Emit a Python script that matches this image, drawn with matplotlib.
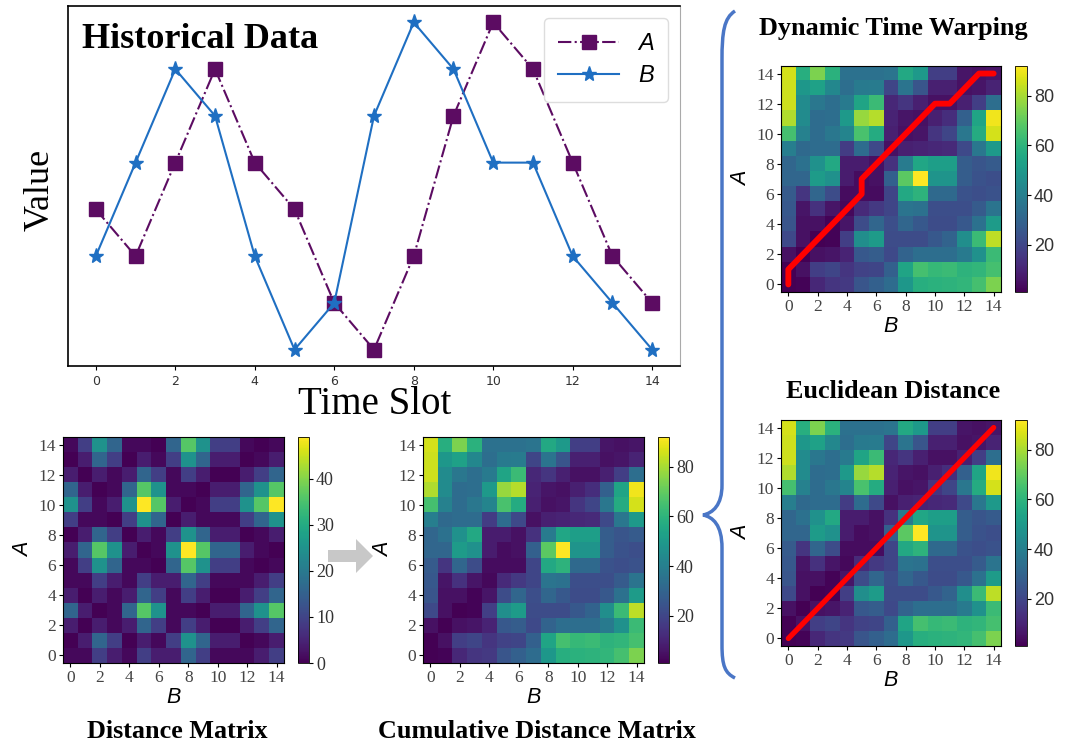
import numpy as np
import matplotlib.pyplot as plt
from matplotlib.patches import FancyArrow, PathPatch
from matplotlib.path import Path

# 两条时间序列 (读图得到的离散取值)
time_slots = [0, 1, 2, 3, 4, 5, 6, 7, 8, 9, 10, 11, 12, 13, 14]
series_a = [3, 2, 4, 6, 4, 3, 1, 0, 2, 5, 7, 6, 4, 2, 1]
series_b = [2, 4, 6, 5, 2, 0, 1, 5, 7, 6, 4, 4, 2, 1, 0]
line_ticks = [0, 2, 4, 6, 8, 10, 12, 14]
heat_ticks = [0, 2, 4, 6, 8, 10, 12, 14]
dist_cbar_ticks = [0, 10, 20, 30, 40]
cum_cbar_ticks = [20, 40, 60, 80]

SERIF = 'Liberation Serif'
SANS = 'Liberation Sans'

# 距离矩阵: 行为A, 列为B
a = np.array(series_a)
b = np.array(series_b)
dist = (a[:, None] - b[None, :]) ** 2
n, m = dist.shape
# 累积距离矩阵 (DTW)
cum = np.zeros((n, m))
for i in range(n):
    for j in range(m):
        if i == 0 and j == 0:
            cum[i, j] = dist[i, j]
        elif i == 0:
            cum[i, j] = dist[i, j] + cum[i, j - 1]
        elif j == 0:
            cum[i, j] = dist[i, j] + cum[i - 1, j]
        else:
            cum[i, j] = dist[i, j] + min(cum[i - 1, j - 1], cum[i - 1, j], cum[i, j - 1])
# 回溯最优路径 (平局时先向上)
i, j = n - 1, m - 1
path = [(i, j)]
while i > 0 or j > 0:
    if i == 0:
        j -= 1
    elif j == 0:
        i -= 1
    else:
        k = np.argmin([cum[i - 1, j], cum[i - 1, j - 1], cum[i, j - 1]])
        if k == 0:
            i -= 1
        elif k == 1:
            i, j = i - 1, j - 1
        else:
            j -= 1
    path.append((i, j))
path.reverse()
path_a = [p[0] for p in path]
path_b = [p[1] for p in path]

W, H = 1066, 745
fig = plt.figure(figsize=(W / 100, H / 100), dpi=100)


def px_rect(left, top, right, bottom):
    return [left / W, 1 - bottom / H, (right - left) / W, (bottom - top) / H]


# ---- 历史数据折线图 ----
ax = fig.add_axes(px_rect(68, 6, 680, 366))
ax.plot(time_slots, series_a, color='#5c0c62', ls='-.', lw=1.5, marker='s', ms=10, label='A')
ax.plot(time_slots, series_b, color='#1f6fc2', ls='-', lw=1.5, marker='*', ms=11, label='B')
ax.set_xticks(line_ticks)
ax.tick_params(axis='x', labelsize=9, labelcolor='#333333', length=3)
ax.set_yticks([])
ax.spines['right'].set_color('#aaaaaa')
for s in ['left', 'bottom', 'top']:
    ax.spines[s].set_linewidth(1.2)
ax.legend(loc='upper right', prop={'family': SANS, 'style': 'italic', 'size': 17},
          handlelength=2.6, labelspacing=0.4, borderpad=0.6, framealpha=1, edgecolor='#dddddd')
ax.text(0.023, 0.884, 'Historical Data', transform=ax.transAxes, family=SERIF,
        fontweight='bold', fontsize=26, va='baseline')
fig.text(40 / W, 1 - 190 / H, 'Value', family=SERIF, fontsize=26, rotation=90,
         ha='center', va='center')
fig.text(375 / W, 1 - 405 / H, 'Time Slot', family=SERIF, fontsize=28,
         ha='center', va='center')


def heatmap(rect, cbar_rect, data, cbar_ticks, cbar_family, cbar_size):
    hx = fig.add_axes(px_rect(*rect))
    im = hx.imshow(data, origin='lower', cmap='viridis', aspect='auto')
    hx.set_xticks(heat_ticks)
    hx.set_xticklabels(heat_ticks, family=SERIF, fontsize=12.5, color='#444444')
    hx.set_yticks(heat_ticks)
    hx.set_yticklabels(heat_ticks, family=SERIF, fontsize=12.5, color='#444444')
    hx.tick_params(length=3, pad=2)
    hx.set_xlabel('B', family=SANS, style='italic', fontsize=15.5, labelpad=1)
    hx.set_ylabel('A', family=SANS, style='italic', fontsize=15.5, labelpad=3)
    cx = fig.add_axes(px_rect(*cbar_rect))
    cb = fig.colorbar(im, cax=cx, ticks=cbar_ticks)
    cb.ax.set_yticklabels(cbar_ticks, family=cbar_family, fontsize=cbar_size, color='#333333')
    cb.ax.tick_params(length=3, pad=2)
    cb.outline.set_linewidth(0.6)
    return hx


heatmap((63, 437, 284, 663), (298, 437, 309, 663), dist, dist_cbar_ticks, SERIF, 13)
heatmap((423, 437, 644, 663), (658, 437, 669, 663), cum, cum_cbar_ticks, SERIF, 13)
dtw_ax = heatmap((781, 66, 1001, 292), (1015, 66, 1027, 292), cum, cum_cbar_ticks, SANS, 13)
dtw_ax.plot(path_b, path_a, color='red', lw=4.2, solid_joinstyle='round', solid_capstyle='round')
euc_ax = heatmap((781, 420, 1001, 646), (1015, 420, 1027, 646), cum, cum_cbar_ticks, SANS, 13)
euc_ax.plot(time_slots, time_slots, color='red', lw=3.8, solid_capstyle='round')

for label, x, y in [('Distance Matrix', 177, 732), ('Cumulative Distance Matrix', 537, 732),
                    ('Dynamic Time Warping', 893, 28), ('Euclidean Distance', 893, 392)]:
    fig.text(x / W, 1 - y / H, label, family=SERIF, fontweight='bold', fontsize=18.8,
             ha='center', va='center')

# ---- 覆盖层: 箭头与大括号 (像素坐标) ----
ov = fig.add_axes([0, 0, 1, 1])
ov.set_xlim(0, W)
ov.set_ylim(H, 0)
ov.axis('off')
ov.patch.set_alpha(0)
ov.add_patch(FancyArrow(328, 556, 45, 0, width=12, head_width=34, head_length=17,
                        length_includes_head=True, color='#c8c8c8', lw=0))
verts = [(735, 11), (724, 18), (722, 32), (722, 60),
         (722, 485),
         (722, 505), (713, 513), (703, 515),
         (713, 517), (722, 525), (722, 548),
         (722, 645),
         (722, 666), (725, 673), (735, 678)]
codes = [Path.MOVETO, Path.CURVE4, Path.CURVE4, Path.CURVE4,
         Path.LINETO,
         Path.CURVE4, Path.CURVE4, Path.CURVE4,
         Path.CURVE4, Path.CURVE4, Path.CURVE4,
         Path.LINETO,
         Path.CURVE4, Path.CURVE4, Path.CURVE4]
ov.add_patch(PathPatch(Path(verts, codes), fill=False, edgecolor='#4a76c6', lw=2.5))

fig.savefig('out.png', dpi=100)
